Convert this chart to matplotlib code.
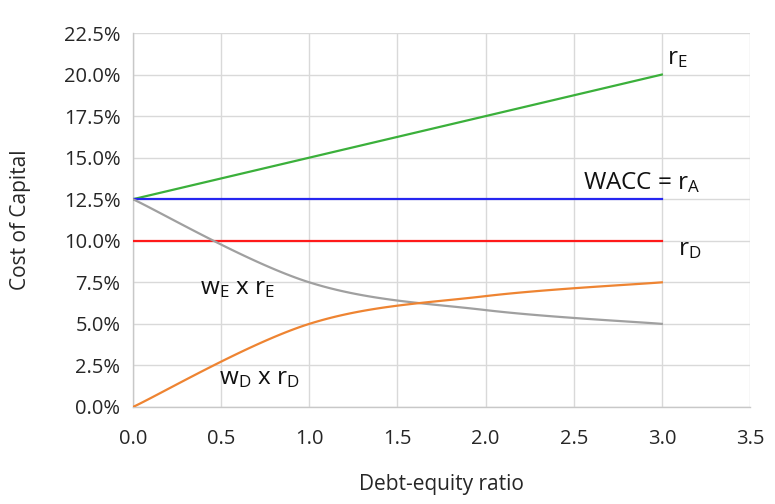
import numpy as np
import matplotlib
matplotlib.use("Agg")
import matplotlib.pyplot as plt
from matplotlib.ticker import FuncFormatter, MultipleLocator

plt.rcParams['font.family'] = ['Open Sans', 'DejaVu Sans']
plt.rcParams['mathtext.default'] = 'regular'

# Data
de_ratio = [0.0, 1.0, 2.0, 3.0]
r_E = [12.5, 15.0, 17.5, 20.0]
wacc = [12.5, 12.5, 12.5, 12.5]
r_D = [10.0, 10.0, 10.0, 10.0]
wE_rE = [12.5, 7.5, 5.83, 5.0]
wD_rD = [0.0, 5.0, 6.67, 7.5]

x_ticks = [0.0, 0.5, 1.0, 1.5, 2.0, 2.5, 3.0, 3.5]


def smooth(xs, ys, n=40):
    """Excel-style smoothed line (cubic Bezier through points)."""
    xs = np.asarray(xs, float)
    ys = np.asarray(ys, float)
    P = np.column_stack([xs, ys])
    m = len(P)
    out = []
    for i in range(m - 1):
        p0, p1 = P[i], P[i + 1]
        prev = P[i - 1] if i > 0 else P[i]
        nxt = P[i + 2] if i + 2 < m else P[i + 1]
        c1 = p0 + (p1 - prev) / 6.0
        c2 = p1 - (nxt - p0) / 6.0
        t = np.linspace(0, 1, n)[:, None]
        seg = ((1 - t) ** 3) * p0 + 3 * ((1 - t) ** 2) * t * c1 + 3 * (1 - t) * t ** 2 * c2 + t ** 3 * p1
        out.append(seg if i == 0 else seg[1:])
    pts = np.vstack(out)
    return pts[:, 0], pts[:, 1]


fig = plt.figure(figsize=(7.75, 5.04), dpi=100)
ax = fig.add_axes([0.1716, 0.1925, 0.7961, 0.742])

lw = 1.6
ax.plot(de_ratio, r_E, color='#3BB03B', lw=lw, zorder=3)
ax.plot(de_ratio, wacc, color='#2626F0', lw=lw, zorder=3)
ax.plot(de_ratio, r_D, color='#FF1A1A', lw=lw, zorder=3)
gx, gy = smooth(de_ratio, wE_rE)
ax.plot(gx, gy, color='#A0A0A0', lw=lw, zorder=3)
ox, oy = smooth(de_ratio, wD_rD)
ax.plot(ox, oy, color='#EE8432', lw=lw, zorder=3)

ax.set_xlim(0, 3.5)
ax.set_ylim(0, 22.5)
ax.set_xticks(x_ticks)
ax.yaxis.set_major_locator(MultipleLocator(2.5))
ax.xaxis.set_major_formatter(FuncFormatter(lambda v, p: f"{v:.1f}"))
ax.yaxis.set_major_formatter(FuncFormatter(lambda v, p: f"{v:.1f}%"))
ax.grid(True, color='#D9D9D9', lw=1.0, zorder=0)
ax.set_axisbelow(True)
for s in ['top', 'right']:
    ax.spines[s].set_visible(False)
for s in ['left', 'bottom']:
    ax.spines[s].set_color('#C8C8C8')
    ax.spines[s].set_linewidth(1.0)
ax.tick_params(length=0, labelsize=14.5, colors='#262626')
ax.tick_params(axis='y', pad=9)
ax.tick_params(axis='x', pad=16)

ax.set_ylabel('Cost of Capital', fontsize=15, color='#262626', labelpad=24)
ax.set_xlabel('Debt-equity ratio', fontsize=15, color='#262626', labelpad=18)

ts = 17.5
ax.text(3.03, 21.0, '$r_E$', fontsize=ts, va='center', ha='left', color='#111111')
ax.text(2.55, 13.5, 'WACC = $r_A$', fontsize=ts, va='center', ha='left', color='#111111')
ax.text(3.09, 9.5, '$r_D$', fontsize=ts, va='center', ha='left', color='#111111')
ax.text(0.38, 7.15, '$w_E$ x $r_E$', fontsize=ts, va='center', ha='left', color='#111111')
ax.text(0.49, 1.75, '$w_D$ x $r_D$', fontsize=ts, va='center', ha='left', color='#111111')

fig.savefig('out.png', dpi=100)
